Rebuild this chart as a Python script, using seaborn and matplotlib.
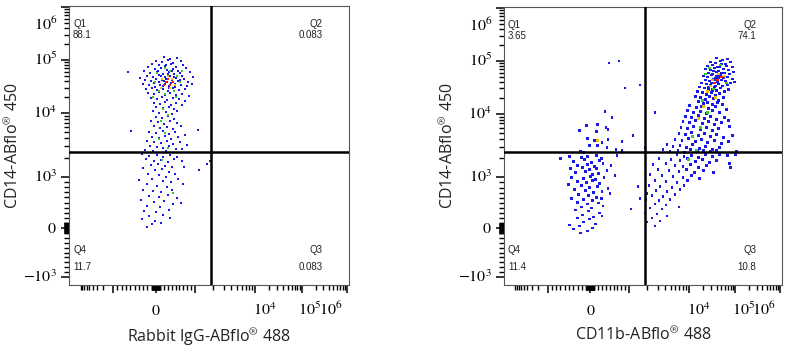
import numpy as np
import pandas as pd
import matplotlib
matplotlib.use("Agg")
import matplotlib.pyplot as plt
import matplotlib.transforms as mtransforms
import seaborn as sns

# ---------------- data (channel units on a biexponential display scale) ----------------
X_LABEL_LEFT = r"Rabbit IgG-ABflo$^{\circledR}$ 488"
X_LABEL_RIGHT = r"CD11b-ABflo$^{\circledR}$ 488"
Y_LABEL = r"CD14-ABflo$^{\circledR}$ 450"

# quadrant gate position (channel units)
GATE_X = 142
GATE_Y = 133

# quadrant statistics (Q1, Q2, Q3, Q4)
QUAD_NAMES = ["Q1", "Q2", "Q3", "Q4"]
LEFT_PCT = ["88.1", "0.083", "0.083", "11.7"]
RIGHT_PCT = ["3.65", "74.1", "10.8", "11.4"]

# axis scale anchors: fluorescence value -> channel
X_ANCHOR_VALUES = [-1e4, -1e3, 0, 1e3, 1e4, 1e5, 1e6]
X_ANCHOR_CHANNELS = [10, 44, 87, 126, 186, 233, 278]
Y_ANCHOR_VALUES = [-1e4, -1e3, 0, 1e3, 1e4, 1e5, 1e6]
Y_ANCHOR_CHANNELS = [-40, 8, 57, 108, 172, 225, 278]

X_TICK_VALUES = [0, 1e4, 1e5, 1e6]
X_TICK_LABELS = [r"$0$", r"$10^4$", r"$10^5$", r"$10^6$"]
Y_TICK_VALUES = [-1e3, 0, 1e3, 1e4, 1e5, 1e6]
Y_TICK_LABELS = [r"$-10^3$", r"$0$", r"$10^3$", r"$10^4$", r"$10^5$", r"$10^6$"]

# left panel events (x channel, y channel)
LEFT_EVENTS = [
    (95, 228), (101, 226), (108, 227), (87, 224), (93, 223), (99, 225), (104, 222), (112, 224),
    (83, 221), (90, 220), (96, 219), (102, 221), (107, 218), (114, 220), (79, 218), (86, 216),
    (92, 217), (98, 215), (104, 216), (109, 214), (117, 217), (75, 214), (81, 212), (88, 213),
    (94, 211), (100, 213), (105, 211), (111, 212), (121, 213), (78, 209), (84, 208), (90, 210),
    (96, 208), (101, 209), (107, 207), (113, 209), (124, 208), (71, 207), (76, 205), (82, 204),
    (87, 206), (93, 205), (98, 203), (103, 205), (109, 204), (115, 206), (119, 203), (74, 201),
    (80, 200), (85, 202), (91, 200), (96, 201), (100, 199), (106, 201), (112, 200), (118, 199),
    (123, 201), (77, 196), (83, 197), (88, 195), (94, 196), (99, 194), (104, 197), (110, 195),
    (116, 196), (79, 192), (85, 191), (90, 193), (96, 190), (101, 192), (107, 190), (113, 191),
    (120, 189), (82, 187), (88, 186), (93, 188), (98, 185), (104, 187), (110, 186), (116, 184),
    (85, 182), (91, 181), (96, 183), (102, 180), (107, 182), (113, 180), (87, 178), (94, 177),
    (100, 178), (105, 176),
    (92, 209), (97, 206), (102, 202), (95, 204), (99, 211), (105, 208), (90, 203), (100, 197),
    (94, 199), (106, 198), (89, 214), (103, 214), (97, 220), (86, 198), (111, 205),
    (84, 174), (90, 172), (97, 173), (103, 171), (108, 174), (87, 168), (93, 167), (99, 169),
    (105, 166), (82, 164), (89, 163), (95, 161), (101, 164), (108, 162), (85, 159), (91, 157),
    (98, 158), (104, 156), (112, 159), (62, 154), (80, 153), (87, 152), (94, 154), (100, 151),
    (106, 153), (129, 155), (83, 148), (90, 147), (96, 149), (102, 146), (109, 148), (116, 150),
    (78, 144), (85, 143), (92, 142), (98, 144), (104, 141), (111, 143), (81, 139), (88, 138),
    (94, 137), (100, 139), (107, 136), (118, 140), (76, 135), (84, 134), (97, 134), (113, 136),
    (73, 131), (80, 129), (88, 130), (94, 128), (101, 130), (108, 128), (77, 126), (85, 124),
    (92, 125), (99, 123), (105, 126), (113, 124), (141, 124), (82, 120), (89, 121), (96, 119),
    (103, 118), (138, 121), (74, 117), (86, 115), (93, 116), (100, 113), (115, 118), (130, 115),
    (79, 111), (90, 110), (97, 108), (106, 111), (83, 106), (70, 105), (94, 104), (102, 103),
    (109, 106), (78, 101), (88, 99), (98, 98), (114, 101), (74, 95), (84, 94), (92, 93),
    (103, 95), (80, 89), (90, 88), (99, 90), (108, 87), (72, 85), (85, 83), (95, 84),
    (104, 81), (78, 79), (91, 78), (112, 82), (75, 74), (87, 73), (100, 75), (80, 69),
    (94, 70), (73, 66), (86, 64), (101, 67), (83, 61), (92, 62), (78, 58), (59, 213),
]
LEFT_GREEN = [(88, 212), (108, 209), (86, 203), (111, 203), (90, 194), (105, 194), (96, 217),
              (101, 214), (113, 214), (84, 188), (107, 188), (96, 191), (94, 176), (99, 170),
              (92, 164), (96, 152), (90, 146), (99, 137), (93, 125), (104, 92)]
LEFT_YELLOW = [(93, 206), (103, 206), (99, 209), (106, 200), (92, 197), (101, 197)]
LEFT_RED = [(97, 203), (101, 200), (99, 206), (95, 200), (104, 203)]

# right panel events (x channel, y channel)
RIGHT_EVENTS = [
    (106, 223), (116, 225), (122, 198), (137, 201), (102, 174), (109, 168), (130, 150),
    (119, 144), (152, 173), (142, 138),
    (83, 160), (94, 161), (103, 158), (105, 156), (76, 155), (93, 154), (84, 147), (105, 146),
    (91, 145), (99, 143), (86, 140), (94, 140), (104, 138), (113, 136), (119, 135), (77, 134),
    (80, 133), (57, 127), (66, 129), (78, 128), (84, 129), (93, 130), (98, 127), (114, 130),
    (70, 124), (81, 126), (88, 123), (96, 125), (74, 120), (84, 121), (91, 119), (100, 122),
    (108, 120), (67, 117), (79, 118), (86, 116), (93, 117), (104, 115), (72, 113), (82, 114),
    (89, 111), (95, 112), (112, 110), (68, 108), (80, 107), (87, 109), (92, 106), (101, 108),
    (74, 104), (83, 103), (89, 105), (96, 102), (65, 101), (78, 100), (86, 98), (94, 99),
    (105, 97), (71, 96), (82, 95), (90, 93), (99, 94), (75, 91), (85, 90), (93, 88),
    (107, 92), (68, 87), (80, 86), (89, 85), (98, 87), (74, 83), (84, 81), (95, 82),
    (78, 78), (88, 77), (100, 79), (72, 75), (85, 74), (96, 72), (79, 70), (90, 68),
    (74, 67), (86, 66), (99, 69), (80, 63), (92, 61), (66, 60), (76, 59), (89, 57),
    (70, 56), (84, 54), (77, 52), (135, 99), (137, 87), (128, 76), (144, 92),
    (214, 228), (220, 226), (225, 227), (208, 224), (213, 223), (218, 225), (223, 222), (228, 224),
    (205, 220), (210, 221), (215, 219), (219, 222), (224, 220), (230, 219), (203, 217), (208, 216),
    (212, 218), (216, 215), (221, 217), (226, 216), (206, 213), (210, 212), (214, 214), (218, 211),
    (222, 213), (227, 212), (231, 214), (201, 210), (205, 209), (209, 211), (213, 208), (217, 210),
    (221, 208), (225, 209), (230, 207), (203, 206), (207, 205), (211, 207), (215, 204), (219, 206),
    (223, 205), (228, 203), (199, 203), (204, 202), (208, 201), (212, 199), (216, 202), (220, 200),
    (225, 201), (232, 204), (197, 199), (202, 198), (206, 196), (210, 197), (214, 195), (218, 198),
    (226, 196), (195, 194), (200, 193), (204, 191), (209, 193), (213, 190), (217, 192), (222, 194),
    (193, 189), (198, 188), (203, 186), (207, 189), (211, 187), (216, 185), (221, 188), (196, 184),
    (201, 182), (205, 183), (210, 181), (215, 183),
    (212, 206), (216, 208), (209, 203), (214, 210), (219, 213), (211, 215), (206, 199), (213, 200),
    (217, 219), (210, 195),
    (187, 180), (194, 178), (199, 179), (206, 177), (213, 179), (220, 181), (185, 175), (191, 173),
    (198, 174), (204, 172), (210, 175), (217, 173), (224, 176), (183, 169), (189, 168), (196, 170),
    (202, 167), (208, 169), (214, 166), (222, 168), (180, 164), (187, 163), (193, 165), (200, 162),
    (206, 164), (212, 161), (219, 163), (226, 165), (178, 158), (185, 157), (191, 159), (198, 156),
    (204, 158), (210, 155), (216, 157), (227, 159), (176, 152), (183, 151), (189, 153), (196, 150),
    (202, 152), (208, 149), (214, 151), (221, 148), (230, 150), (172, 146), (179, 145), (186, 147),
    (193, 144), (199, 146), (205, 143), (212, 145), (219, 142), (226, 144), (164, 141), (170, 139),
    (177, 140), (184, 138), (190, 141), (197, 137), (203, 139), (210, 136), (217, 138), (160, 136),
    (167, 134), (175, 135), (182, 133), (188, 136), (195, 134), (201, 135), (208, 134), (214, 135),
    (234, 134),
    (174, 131), (181, 129), (189, 130), (196, 128), (203, 131), (210, 129), (217, 131), (225, 130),
    (233, 131), (156, 127), (168, 126), (177, 125), (185, 127), (193, 124), (200, 126), (207, 123),
    (214, 125), (150, 121), (163, 122), (172, 120), (180, 119), (188, 121), (196, 118), (204, 120),
    (227, 122), (228, 118), (155, 116), (166, 115), (176, 114), (184, 116), (192, 113), (201, 115),
    (211, 113), (147, 111), (159, 110), (170, 109), (180, 108), (189, 110), (197, 107), (152, 105),
    (163, 104), (174, 103), (185, 105), (146, 100), (157, 99), (169, 98), (181, 100), (153, 95),
    (164, 94), (177, 96), (149, 90), (160, 89), (172, 91), (143, 86), (156, 85), (167, 86),
    (152, 81), (163, 80), (147, 77), (159, 76), (176, 78), (142, 72), (154, 71), (149, 67),
    (164, 69), (144, 63), (157, 64), (152, 59),
]
RIGHT_GREEN = [(207, 218), (218, 221), (203, 212), (224, 203), (211, 197), (200, 185),
               (205, 173), (198, 158), (190, 149), (194, 135), (186, 126)]
RIGHT_YELLOW = [(210, 206), (216, 212), (208, 200), (222, 210), (205, 194), (213, 188),
                (201, 179), (196, 167), (94, 145)]
RIGHT_RED = [(215, 206), (219, 209), (212, 203)]

LEVEL_COLORS = {"low": "#1a1ae6", "mid": "#30d030", "high": "#f0c000", "peak": "#ff1a00"}


def build_frame(events, green, yellow, red):
    recs = [(x, y, "low") for x, y in events]
    for lvl, pts in (("mid", green), ("high", yellow), ("peak", red)):
        recs += [(x, y, lvl) for x, y in pts]
    return pd.DataFrame(recs, columns=["x", "y", "level"])


def to_channel(v, values, chans):
    values = np.asarray(values, float)
    chans = np.asarray(chans, float)
    for i in range(len(values) - 1):
        v0, v1 = values[i], values[i + 1]
        if v0 <= v <= v1:
            c0, c1 = chans[i], chans[i + 1]
            if v0 * v1 > 0 and abs(v0) >= 1e3 and abs(v1) >= 1e3:
                return c0 + (c1 - c0) * np.log10(v / v0) / np.log10(v1 / v0)
            return c0 + (c1 - c0) * (v - v0) / (v1 - v0)
    return np.nan


def minor_values():
    vals = list(np.arange(-1000, 1001, 100)) + list(np.arange(-100, 101, 10))
    for k in (3, 4, 5):
        for m in range(2, 10):
            vals += [m * 10 ** k, -m * 10 ** k]
    return vals


sns.set_style("white")
plt.rcParams["font.family"] = ["Open Sans", "DejaVu Sans"]
plt.rcParams["mathtext.fontset"] = "stix"

fig = plt.figure(figsize=(7.88, 3.5), dpi=100)
W, H = 788, 350
panels = [
    (69, 6, 280, 279, build_frame(LEFT_EVENTS, LEFT_GREEN, LEFT_YELLOW, LEFT_RED), LEFT_PCT, X_LABEL_LEFT),
    (504, 7, 278, 278, build_frame(RIGHT_EVENTS, RIGHT_GREEN, RIGHT_YELLOW, RIGHT_RED), RIGHT_PCT, X_LABEL_RIGHT),
]

x_label_shift = {0: 0, 1e4: 10, 1e5: 8, 1e6: -16}
y_label_shift = {1e6: -18}

for left, top, w, h, df, pcts, xlab in panels:
    ax = fig.add_axes([left / W, 1 - (top + h) / H, w / W, h / H])
    sns.scatterplot(data=df, x="x", y="y", hue="level", palette=LEVEL_COLORS,
                    hue_order=["low", "mid", "high", "peak"], marker="s", s=3.0,
                    linewidth=0, legend=False, ax=ax, zorder=2)
    ax.set_xlim(0, 280)
    ax.set_ylim(0, 279)
    ax.axvline(GATE_X, color="black", lw=1.8, zorder=3)
    ax.axhline(GATE_Y, color="black", lw=1.8, zorder=3)

    xmaj = [to_channel(v, X_ANCHOR_VALUES, X_ANCHOR_CHANNELS) for v in [-1e3, 0, 1e3, 1e4, 1e5, 1e6]]
    ymaj = [to_channel(v, Y_ANCHOR_VALUES, Y_ANCHOR_CHANNELS) for v in Y_TICK_VALUES]
    xmin = [to_channel(v, X_ANCHOR_VALUES, X_ANCHOR_CHANNELS) for v in minor_values()]
    ymin = [to_channel(v, Y_ANCHOR_VALUES, Y_ANCHOR_CHANNELS) for v in minor_values()]
    xmin = [c for c in xmin if np.isfinite(c) and 0 <= c <= 280]
    ymin = [c for c in ymin if np.isfinite(c) and 0 <= c <= 279]
    ax.set_xticks(xmaj)
    ax.set_xticklabels([])
    ax.set_yticks(ymaj)
    ax.set_yticklabels([])
    ax.set_xticks(xmin, minor=True)
    ax.set_yticks(ymin, minor=True)
    ax.tick_params(which="major", direction="out", length=5.5, width=1.1, color="black",
                   bottom=True, left=True)
    ax.tick_params(which="minor", direction="out", length=3.5, width=1.0, color="black",
                   bottom=True, left=True)

    xt = mtransforms.blended_transform_factory(ax.transData, ax.transAxes)
    for v, lab in zip(X_TICK_VALUES, X_TICK_LABELS):
        c = to_channel(v, X_ANCHOR_VALUES, X_ANCHOR_CHANNELS) + x_label_shift.get(v, 0)
        ax.text(c, -30 / h, lab, transform=xt, ha="center", va="baseline",
                fontsize=11.5, color="black", clip_on=False)
    yt = mtransforms.blended_transform_factory(ax.transAxes, ax.transData)
    for v, lab in zip(Y_TICK_VALUES, Y_TICK_LABELS):
        c = to_channel(v, Y_ANCHOR_VALUES, Y_ANCHOR_CHANNELS) + y_label_shift.get(v, 0)
        ax.text(-12 / w, c - 5, lab, transform=yt, ha="right", va="baseline",
                fontsize=11.5, color="black", clip_on=False)

    for sp in ax.spines.values():
        sp.set_color("#555555")
        sp.set_linewidth(0.8)

    ax.set_xlabel(xlab, fontsize=11.5, color="#222222")
    ax.set_ylabel(Y_LABEL, fontsize=11.5, color="#222222")
    ax.xaxis.set_label_coords(0.5, -42 / h)
    ax.yaxis.set_label_coords(-47 / w, 0.5)

    qfont = dict(fontsize=7, color="#222222", family="Liberation Sans", transform=ax.transData)
    ax.text(4, 258, QUAD_NAMES[0], ha="left", va="baseline", **qfont)
    ax.text(4, 247, pcts[0], ha="left", va="baseline", **qfont)
    ax.text(254, 258, QUAD_NAMES[1], ha="right", va="baseline", **qfont)
    ax.text(254, 247, pcts[1], ha="right", va="baseline", **qfont)
    ax.text(254, 32, QUAD_NAMES[2], ha="right", va="baseline", **qfont)
    ax.text(254, 15, pcts[2], ha="right", va="baseline", **qfont)
    ax.text(4, 32, QUAD_NAMES[3], ha="left", va="baseline", **qfont)
    ax.text(4, 15, pcts[3], ha="left", va="baseline", **qfont)

fig.savefig("out.png", dpi=100)
